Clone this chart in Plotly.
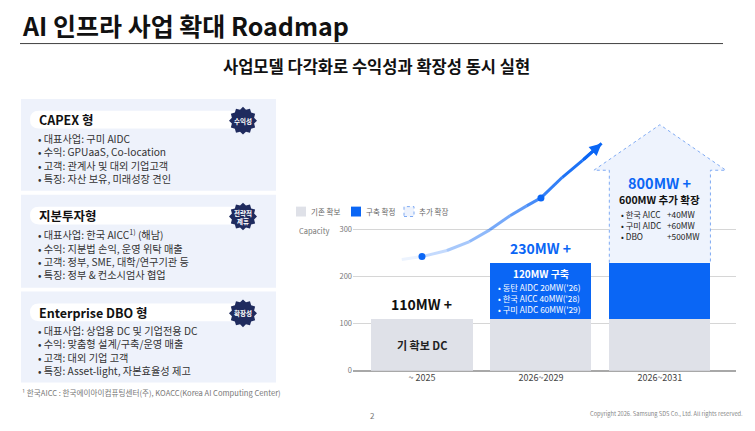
import math

import plotly.graph_objects as go

# ============================================================
# Data
# ============================================================

categories = ["~ 2025", "2026~2029", "2026~2031"]
existing_mw = [110, 110, 110]
confirmed_mw = [0, 120, 120]
total_labels = ["110MW +", "230MW +", "800MW +"]
y_ticks = [0, 100, 200, 300]

# growth curve (category position, capacity)
trend_x = [-0.17, 0.0, 0.21, 0.40, 0.57, 0.74, 0.88, 1.0, 1.18, 1.35, 1.51]
trend_y = [237, 243, 256, 275, 300, 330, 351, 368, 412, 448, 484]
trend_dots_x = [0, 1]
trend_dots_y = [243, 368]

bar2_bullets = ["• 동탄 AIDC 20MW('26)", "• 한국 AICC 40MW('28)", "• 구미 AIDC 60MW('29)"]
bar3_names = ["• 한국 AICC", "• 구미 AIDC", "• DBO"]
bar3_values = ["+40MW", "+60MW", "+500MW"]

panel_titles = ["CAPEX 형", "지분투자형", "Enterprise DBO 형"]
panel_badges = ["수익성", "전략적<br>제휴", "확장성"]
panel_bullets = [
    ["대표사업: 구미 AIDC", "수익: GPUaaS, Co-location",
     "고객: 관계사 및 대외 기업고객", "특징: 자산 보유, 미래성장 견인"],
    ["대표사업: 한국 AICC<sup>1)</sup> (해남)", "수익: 지분법 손익, 운영 위탁 매출",
     "고객: 정부, SME, 대학/연구기관 등", "특징: 정부 & 컨소시엄사 협업"],
    ["대표사업: 상업용 DC 및 기업전용 DC", "수익: 맞춤형 설계/구축/운영 매출",
     "고객: 대외 기업 고객", "특징: Asset-light, 자본효율성 제고"],
]

# ============================================================
# Style
# ============================================================

# the page body keeps an 8px margin, so the figure is drawn 8px smaller
# and every pixel position below is given in window coordinates
PAGE = 8
W, H = 755 - PAGE, 431 - PAGE
FONT = "Noto Sans CJK KR, Noto Sans, sans-serif"
BLUE = "#0A66F5"
GREY_BAR = "#DFE1E8"
NAVY = "#1F2B5E"
PANEL_BG = "#EEF2FB"
BAR_W = 0.85
ARROW_SHOULDER = 427
ARROW_TIP = 524
ARROW_HEAD = 0.555


def pp(x, y):
    """window pixel -> paper"""
    return (x - PAGE) / W, 1 - (y - PAGE) / H


def note(fig, text, x, y, size, color="#333333", bold=False, xanchor="left", **kw):
    px_, py_ = pp(x, y)
    if bold:
        text = f"<b>{text}</b>"
    fig.add_annotation(
        x=px_, y=py_, xref="paper", yref="paper", text=text, showarrow=False,
        xanchor=xanchor, yanchor="middle", font=dict(family=FONT, size=size, color=color),
        **kw,
    )


def rect(fig, x0, y0, x1, y1, color, line=None):
    a0, b0 = pp(x0, y0)
    a1, b1 = pp(x1, y1)
    fig.add_shape(type="rect", xref="paper", yref="paper", x0=a0, y0=b1, x1=a1, y1=b0,
                  fillcolor=color, line=line or dict(width=0), layer="below")


def pill(fig, x0, y0, x1, y1, color):
    r = (y1 - y0) / 2
    pts = [
        ("M", x0 + r, y0), ("L", x1 - r, y0), ("Q", x1, y0, x1, y0 + r),
        ("Q", x1, y1, x1 - r, y1), ("L", x0 + r, y1), ("Q", x0, y1, x0, y0 + r),
        ("Q", x0, y0, x0 + r, y0),
    ]
    path = ""
    for p in pts:
        cmd, coords = p[0], p[1:]
        parts = []
        for i in range(0, len(coords), 2):
            a, b = pp(coords[i], coords[i + 1])
            parts.append(f"{a:.5f},{b:.5f}")
        path += cmd + " ".join(parts) + " "
    fig.add_shape(type="path", xref="paper", yref="paper", path=path + "Z",
                  fillcolor=color, line=dict(width=0), layer="below")


def badge(fig, cx, cy, r_out, r_in, n, color):
    path = ""
    for i in range(2 * n):
        r = r_out if i % 2 == 0 else r_in
        ang = math.pi * i / n - math.pi / 2
        a, b = pp(cx + r * math.cos(ang), cy + r * math.sin(ang))
        path += ("M" if i == 0 else "L") + f"{a:.5f},{b:.5f} "
    fig.add_shape(type="path", xref="paper", yref="paper", path=path + "Z",
                  fillcolor=color, line=dict(width=0))


fig = go.Figure()

# ============================================================
# Bars
# ============================================================

x_pos = list(range(len(categories)))

fig.add_trace(go.Bar(x=x_pos, y=existing_mw, width=BAR_W, marker=dict(color=GREY_BAR, line=dict(width=0)),
                     hoverinfo="skip"))
fig.add_trace(go.Bar(x=x_pos, y=confirmed_mw, width=BAR_W, marker=dict(color=BLUE, line=dict(width=0)),
                     hoverinfo="skip"))

# expansion arrow on top of the last bar
base = existing_mw[2] + confirmed_mw[2]
cx = x_pos[2]
hw = BAR_W / 2
fig.add_trace(go.Scatter(
    x=[cx - hw, cx - hw, cx - ARROW_HEAD, cx, cx + ARROW_HEAD, cx + hw, cx + hw],
    y=[base, ARROW_SHOULDER, ARROW_SHOULDER, ARROW_TIP, ARROW_SHOULDER, ARROW_SHOULDER, base],
    mode="lines", fill="toself", fillcolor="#EEF3FD",
    line=dict(color="#7FAAF3", width=1, dash="dot"), hoverinfo="skip",
))

# growth curve, fading in from the left
n_seg = len(trend_x) - 1
for i in range(n_seg):
    alpha = 0.08 + 0.92 * (i / (n_seg - 1)) ** 0.8
    fig.add_trace(go.Scatter(
        x=trend_x[i:i + 2], y=trend_y[i:i + 2], mode="lines",
        line=dict(color=f"rgba(10,102,245,{alpha:.2f})", width=3), hoverinfo="skip",
    ))
fig.add_annotation(x=trend_x[-1], y=trend_y[-1], ax=trend_x[-2], ay=trend_y[-2],
                   xref="x", yref="y", axref="x", ayref="y", text="", showarrow=True,
                   arrowhead=2, arrowsize=0.8, arrowwidth=3, arrowcolor=BLUE)
fig.add_trace(go.Scatter(x=trend_dots_x, y=trend_dots_y, mode="markers",
                         marker=dict(color=BLUE, size=7), hoverinfo="skip"))

# bar labels
for i, lab in enumerate(total_labels[:2]):
    color = "#111111" if i == 0 else BLUE
    fig.add_annotation(x=x_pos[i], y=existing_mw[i] + confirmed_mw[i], yanchor="bottom", yshift=3,
                       text=f"<b>{lab}</b>", showarrow=False,
                       font=dict(family=FONT, size=14, color=color))
fig.add_annotation(x=x_pos[2], y=400, text=f"<b>{total_labels[2]}</b>", showarrow=False,
                   font=dict(family=FONT, size=14.5, color=BLUE))
fig.add_annotation(x=x_pos[0], y=existing_mw[0] / 2, text="<b>기 확보 DC</b>", showarrow=False,
                   font=dict(family=FONT, size=11, color="#222222"))
fig.add_annotation(x=x_pos[1], y=207, text="<b>120MW 구축</b>", showarrow=False,
                   font=dict(family=FONT, size=10, color="white"))
fig.add_annotation(x=x_pos[1] - 0.38, y=155, xanchor="left", align="left",
                   text="<br>".join(bar2_bullets), showarrow=False,
                   font=dict(family=FONT, size=8.3, color="white"))
fig.add_annotation(x=x_pos[2], y=365, text="<b>600MW 추가 확장</b>", showarrow=False,
                   font=dict(family=FONT, size=10.5, color="#111111"))
fig.add_annotation(x=x_pos[2] - 0.34, y=311, xanchor="left", align="left",
                   text="<br>".join(bar3_names), showarrow=False,
                   font=dict(family=FONT, size=8.3, color="#222222"))
fig.add_annotation(x=x_pos[2] + 0.04, y=311, xanchor="left", align="left",
                   text="<br>".join(bar3_values), showarrow=False,
                   font=dict(family=FONT, size=8.3, color="#222222"))

# ============================================================
# Axes / layout
# ============================================================

x0_dom, y0_dom = pp(353, 375)
x1_dom, y1_dom = pp(736, 109)

fig.update_layout(
    width=W, height=H,
    margin=dict(l=0, r=0, t=0, b=0),
    paper_bgcolor="white", plot_bgcolor="white",
    barmode="stack", bargap=0, showlegend=False,
    font=dict(family=FONT, color="#333333"),
    xaxis=dict(domain=[x0_dom, x1_dom], range=[-0.58, 2.64], tickmode="array",
               tickvals=x_pos, ticktext=categories, showgrid=False, zeroline=False,
               tickfont=dict(family=FONT, size=9, color="#444444"), ticks=""),
    yaxis=dict(domain=[y0_dom, y1_dom], range=[0, 560], tickmode="array",
               tickvals=y_ticks, showgrid=True, gridcolor="#D6D6D6", gridwidth=1,
               zeroline=True, zerolinecolor="#A8A8A8", zerolinewidth=1.5,
               tickfont=dict(family=FONT, size=7.5, color="#777777"), ticks=""),
)

# ============================================================
# Slide decoration
# ============================================================

note(fig, "AI 인프라 사업 확대 Roadmap", 20, 25, 25, "#111111", bold=True)
fig.add_shape(type="line", xref="paper", yref="paper",
              x0=pp(20, 0)[0], x1=pp(723, 0)[0], y0=pp(0, 44)[1], y1=pp(0, 44)[1],
              line=dict(color="#404040", width=1))
note(fig, "사업모델 다각화로 수익성과 확장성 동시 실현", 376, 67, 16.5, "#111111", bold=True,
     xanchor="center")

# chart legend
legend = [(296, GREY_BAR, None, "기존 확보"), (351, BLUE, None, "구축 확정"),
          (404, "#EEF3FD", dict(color="#7FAAF3", width=1, dash="dot"), "추가 확장")]
for lx, col, ln, lab in legend:
    rect(fig, lx, 209, lx + 10, 219, col, ln)
    note(fig, lab, lx + 13, 214, 7.5, "#666666")
note(fig, "Capacity", 297, 233, 7.5, "#777777")

# left panels
panel_top = [100, 197, 295]
panel_bot = [193, 291, 387]
for k in range(3):
    t = panel_top[k]
    rect(fig, 21, t, 276, panel_bot[k], PANEL_BG)
    hy = t + 21
    pill(fig, 30, hy - 9, 250, hy + 9, "white")
    note(fig, panel_titles[k], 37, hy, 12.5, "#111111", bold=True)
    badge(fig, 243, hy + 1, 14, 11.5, 12, NAVY)
    note(fig, f"<b>{panel_badges[k]}</b>", 243, hy + 1, 6.5, "white", xanchor="center")
    body = "<br>".join("• " + b for b in panel_bullets[k])
    note(fig, body, 36, t + 60, 10.2, "#333333", align="left")

note(fig, "¹ 한국AICC : 한국에이아이컴퓨팅센터(주), KOACC(Korea AI Computing Center)",
     20, 397, 7.6, "#777777")
note(fig, "2", 372, 420, 8, "#777777", xanchor="center")
note(fig, "Copyright 2026. Samsung SDS Co., Ltd. All rights reserved.", 745, 418, 5.7,
     "#888888", xanchor="right")

fig.write_html("out.html")
